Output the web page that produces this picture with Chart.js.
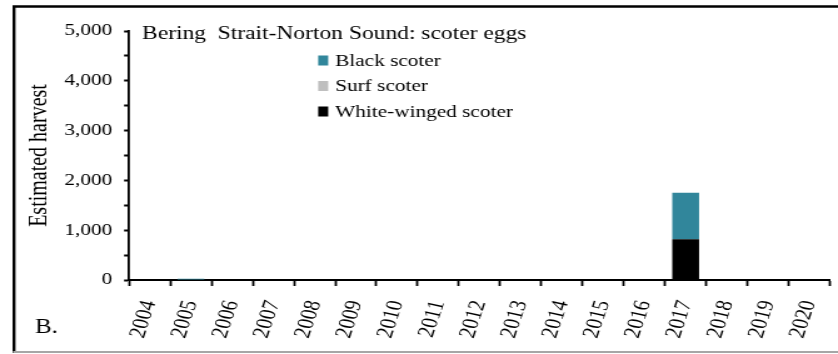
<!DOCTYPE html>
<html>
<head>
<meta charset="utf-8">
<script src="https://cdn.jsdelivr.net/npm/chart.js@4/dist/chart.umd.min.js"></script>
<style>
  html, body { margin: 0; padding: 0; background: #fff; overflow: hidden; }
  #wrap { position: relative; width: 670px; height: 354px; transform: scaleX(1.2507); transform-origin: 0 0; }
  canvas { display: block; }
</style>
</head>
<body>
<div id="wrap"><canvas id="c" width="670" height="354"></canvas></div>
<script>
const years = ['2004','2005','2006','2007','2008','2009','2010','2011','2012','2013','2014','2015','2016','2017','2018','2019','2020'];
const whiteWinged = [0,0,0,0,0,0,0,0,0,0,0,0,0,820,0,0,0];
const surf = [0,0,0,0,0,0,0,0,0,0,0,0,0,0,0,0,0];
const black = [0,25,0,0,0,0,0,0,0,0,0,0,0,930,0,0,0];
const yTicks = [0,1000,2000,3000,4000,5000];
const chartTitle = 'Bering  Strait-Norton Sound: scoter eggs';
const panelLabel = 'B.';

const SERIF = '"Liberation Serif", "Times New Roman", serif';

const overlay = {
  id: 'overlay',
  beforeDraw(chart) {
    const ctx = chart.ctx;
    ctx.save();
    ctx.fillStyle = '#fff';
    ctx.fillRect(0, 0, chart.width, chart.height);
    ctx.strokeStyle = '#000';
    ctx.lineWidth = 2.4;
    ctx.beginPath();
    ctx.moveTo(11.2, 353); ctx.lineTo(11.2, 6.5); ctx.lineTo(670, 6.5);
    ctx.stroke();
    ctx.strokeStyle = '#a6a6a6';
    ctx.lineWidth = 2;
    ctx.beginPath();
    ctx.moveTo(10.4, 352); ctx.lineTo(670, 352);
    ctx.stroke();
    ctx.restore();
  },
  afterDraw(chart) {
    const ctx = chart.ctx;
    ctx.save();
    ctx.fillStyle = '#000';
    ctx.textBaseline = 'alphabetic';
    ctx.textAlign = 'left';
    ctx.font = '18.8px ' + SERIF;
    ctx.fillText(chartTitle, 113.6, 39);
    ctx.font = '20px ' + SERIF;
    ctx.fillText(panelLabel, 28, 333);
    const ds = chart.data.datasets.slice().reverse();
    ctx.font = '17px ' + SERIF;
    ds.forEach((d, i) => {
      const y = 60.5 + i * 25.5;
      ctx.fillStyle = d.backgroundColor;
      ctx.fillRect(254.4, y - 5, 8, 10);
      ctx.fillStyle = '#000';
      ctx.textBaseline = 'middle';
      ctx.fillText(d.label, 268, y + 1);
    });
    ctx.restore();
  }
};

new Chart(document.getElementById('c'), {
  type: 'bar',
  data: {
    labels: years,
    datasets: [
      { label: 'White-winged scoter', data: whiteWinged, backgroundColor: '#000000' },
      { label: 'Surf scoter', data: surf, backgroundColor: '#bfbfbf' },
      { label: 'Black scoter', data: black, backgroundColor: '#31869b' }
    ]
  },
  options: {
    responsive: false,
    animation: false,
    devicePixelRatio: 1,
    layout: { padding: { top: 31, right: 6.4, left: 0, bottom: 0 } },
    plugins: { legend: { display: false }, tooltip: { enabled: false }, title: { display: false } },
    datasets: { bar: { categoryPercentage: 1, barPercentage: 0.65, borderWidth: 0 } },
    scales: {
      x: {
        stacked: true,
        offset: true,
        afterFit(s) { s.height = 74; s.paddingLeft = 0; s.paddingRight = 0; },
        grid: { offset: true, drawOnChartArea: false, drawTicks: true, tickLength: 6, tickColor: '#000', tickWidth: 1.8 },
        border: { display: true, color: '#000', width: 2 },
        ticks: {
          color: '#000', minRotation: 75, maxRotation: 75, padding: 12, autoSkip: false,
          font: { family: SERIF, size: 19 }
        }
      },
      y: {
        stacked: true,
        min: 0, max: 5000,
        afterFit(s) { s.width = 103.2; },
        afterBuildTicks(s) {
          const t = [];
          for (let v = 0; v <= 5000; v += 500) t.push({ value: v });
          s.ticks = t;
        },
        grid: { drawOnChartArea: false, drawTicks: true, tickLength: 4, tickColor: '#000', tickWidth: 2 },
        border: { display: true, color: '#000', width: 1.8 },
        ticks: {
          color: '#000', padding: 9.5,
          font: { family: SERIF, size: 17 },
          callback(v) { return yTicks.includes(v) ? v.toLocaleString('en-US') : ''; }
        },
        title: {
          display: true, text: 'Estimated harvest', color: '#000',
          font: { family: SERIF, size: 20 }, padding: { top: 20, bottom: 0 }
        }
      }
    }
  },
  plugins: [overlay]
});
</script>
</body>
</html>
